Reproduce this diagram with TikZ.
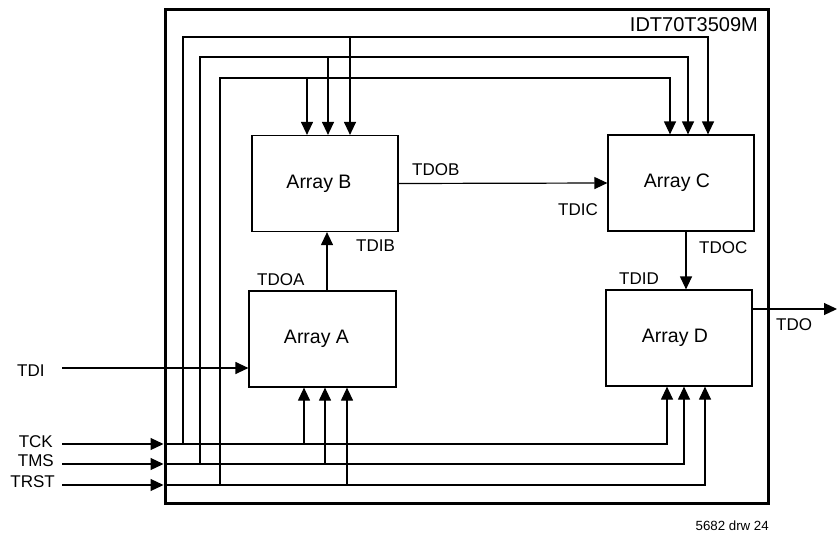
\documentclass[tikz,border=0pt]{standalone}
\usepackage{fontspec}
\setmainfont{Liberation Sans}
\usetikzlibrary{arrows.meta}
\begin{document}
\begin{tikzpicture}[x=1pt,y=-1pt,
  wire/.style={line width=1.2pt},
  arr/.style={wire,-{Triangle[length=13pt,width=12pt]}},
  block/.style={draw,line width=1.2pt,minimum width=146pt,minimum height=96pt,inner sep=0pt},
  blab/.style={font=\fontsize{19.5}{20}\selectfont,inner sep=0pt},
  sig/.style={font=\fontsize{17}{17}\selectfont,inner sep=0pt,anchor=base west},
  sigr/.style={font=\fontsize{17}{17}\selectfont,inner sep=0pt,anchor=base east}]
\useasboundingbox (0,0) rectangle (837,533);
% chip outline
\node[draw,line width=3pt,minimum width=603pt,minimum height=494pt,inner sep=0pt] (chip) at (466.5,256) {};
\node[font=\fontsize{20}{20}\selectfont,inner sep=0pt,anchor=base east] (title) at (758,31.7) {IDT70T3509M};
% blocks
\node[block] (aB) at (325,183.5) {};
\node[block] (aC) at (681,183) {};
\node[block,minimum width=147pt] (aA) at (322.5,339) {};
\node[block] (aD) at (679,338) {};
\node[blab] (lB) at ([xshift=-6pt]aB.center) {Array B};
\node[blab] (lC) at ([xshift=-4pt]aC.center) {Array C};
\node[blab] (lA) at ([xshift=-6pt]aA.center) {Array A};
\node[blab] (lD) at ([xshift=-4pt]aD.center) {Array D};
% helper coordinates
\coordinate (v1) at (183,0);
\coordinate (v2) at (200,0);
\coordinate (v3) at (220,0);
\coordinate (r1) at (0,37);
\coordinate (r2) at (0,57);
\coordinate (r3) at (0,78);
\coordinate (xb1) at (307,0);
\coordinate (xb2) at (328,0);
\coordinate (xb3) at (350,0);
\coordinate (xc1) at (670,0);
\coordinate (xc2) at (688,0);
\coordinate (xc3) at (708,0);
\coordinate (xa1) at (304,0);
\coordinate (xa2) at (325,0);
\coordinate (xa3) at (347,0);
\coordinate (xd1) at (667,0);
\coordinate (xd2) at (684,0);
\coordinate (xd3) at (705,0);
\coordinate (xab) at (327,0);
\coordinate (xcd) at (686,0);
\coordinate (tck) at (62,444);
\coordinate (tms) at (62,464);
\coordinate (trst) at (62,485);
\coordinate (tdi) at (62,368);
\coordinate (tdo) at (837,309);
% external inputs
\draw[arr] (tck) -- (tck -| chip.west);
\draw[arr] (tms) -- (tms -| chip.west);
\draw[arr] (trst) -- (trst -| chip.west);
\draw[arr] (tdi) -- (tdi -| aA.west);
\draw[arr] (tdo -| aD.east) -- (tdo);
% TCK bus
\draw[arr] (tck -| chip.west) -- (tck -| xd1) -- (xd1 |- aD.south);
\draw[arr] (tck -| xa1) -- (xa1 |- aA.south);
\draw[arr] (tck -| v1) -- (r1 -| v1) -- (r1 -| xc3) -- (xc3 |- aC.north);
\draw[arr] (r1 -| xb3) -- (xb3 |- aB.north);
% TMS bus
\draw[arr] (tms -| chip.west) -- (tms -| xd2) -- (xd2 |- aD.south);
\draw[arr] (tms -| xa2) -- (xa2 |- aA.south);
\draw[arr] (tms -| v2) -- (r2 -| v2) -- (r2 -| xc2) -- (xc2 |- aC.north);
\draw[arr] (r2 -| xb2) -- (xb2 |- aB.north);
% TRST bus
\draw[arr] (trst -| chip.west) -- (trst -| xd3) -- (xd3 |- aD.south);
\draw[arr] (trst -| xa3) -- (xa3 |- aA.south);
\draw[arr] (trst -| v3) -- (r3 -| v3) -- (r3 -| xc1) -- (xc1 |- aC.north);
\draw[arr] (r3 -| xb1) -- (xb1 |- aB.north);
% scan chain
\draw[arr] (xab |- aA.north) -- (xab |- aB.south);
\draw[arr] (aB.east) -- (aC.west);
\draw[arr] (xcd |- aC.south) -- (xcd |- aD.north);
% labels
\node[sig] (tdob) at (412,175) {TDOB};
\node[sig] (tdic) at (558,215) {TDIC};
\node[sig] (tdib) at (356,251.7) {TDIB};
\node[sig] (tdoa) at (257,285) {TDOA};
\node[sig] (tdoc) at (699,253) {TDOC};
\node[sig] (tdid) at (619,284) {TDID};
\node[sig] (tdol) at (776,330) {TDO};
\node[sig] (tdil) at (17,376) {TDI};
\node[sigr] (tckl) at (53,447) {TCK};
\node[sigr] (tmsl) at (54,466) {TMS};
\node[sigr] (trstl) at (55,487) {TRST};
\node[font=\fontsize{13.3}{14}\selectfont,inner sep=0pt,anchor=base east] (drw) at (769,530.7) {5682 drw 24};
\end{tikzpicture}
\end{document}
